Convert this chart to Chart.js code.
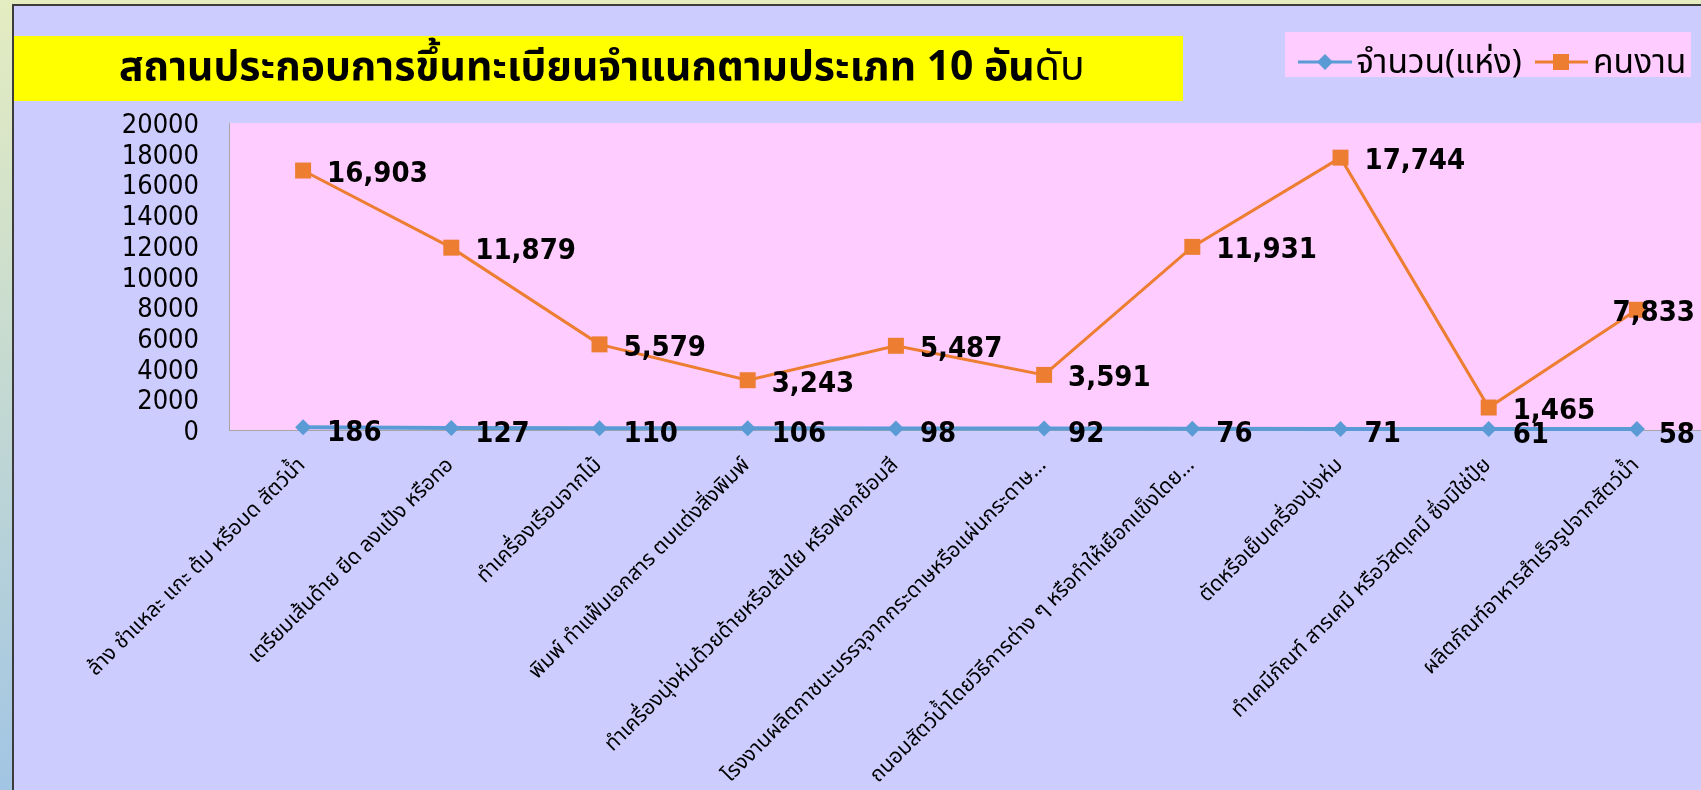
<!DOCTYPE html>
<html>
<head>
<meta charset="utf-8">
<script src="https://cdn.jsdelivr.net/npm/chart.js@4.4.1/dist/chart.umd.min.js"></script>
<style>
  html, body { margin: 0; padding: 0; width: 1701px; height: 790px; overflow: hidden;
    background: linear-gradient(#e4ecc0, #a2c5e4); }
  #frame { position: absolute; left: 12px; top: 4px; width: 1720px; height: 800px;
    border-left: 2px solid #3c3c3c; border-top: 2px solid #3c3c3c; background: #ccccff; }
  canvas { display: block; }
</style>
</head>
<body>
<div id="frame"><canvas id="chart" width="1718" height="784"></canvas></div>
<script>
const categories = [
  'ล้าง ชำแหละ แกะ ต้ม หรือบด สัตว์น้ำ',
  'เตรียมเส้นด้าย ยีด ลงแป้ง หรือทอ',
  'ทำเครื่องเรือนจากไม้',
  'พิมพ์ ทำแฟ้มเอกสาร ตบแต่งสิ่งพิมพ์',
  'ทำเครื่องนุ่งห่มด้วยด้ายหรือเส้นใย หรือฟอกย้อมสี',
  'โรงงานผลิตภาชนะบรรจุจากกระดาษหรือแผ่นกระดาษ…',
  'ถนอมสัตว์น้ำโดยวิธีการต่าง ๆ หรือทำให้เยือกแข็งโดย…',
  'ตัดหรือเย็บเครื่องนุ่งห่ม',
  'ทำเคมีภัณฑ์ สารเคมี หรือวัสดุเคมี ซึ่งมิใช่ปุ๋ย',
  'ผลิตภัณฑ์อาหารสำเร็จรูปจากสัตว์น้ำ'
];
const establishments = [186, 127, 110, 106, 98, 92, 76, 71, 61, 58];
const workers = [16903, 11879, 5579, 3243, 5487, 3591, 11931, 17744, 1465, 7833];
const seriesNames = ['จำนวน(แห่ง)', 'คนงาน'];
const yMin = 0, yMax = 20000, yStep = 2000;
const titleMain = 'สถานประกอบการขึ้นทะเบียนจำแนกตามประเภท 10 อัน';
const titleTail = 'ดับ';

const BLUE = '#5b9bd5';
const ORANGE = '#ed7d31';
const THAI = "Tahoma, 'Noto Sans Thai', Loma, Garuda, 'Noto Sans', sans-serif";
const NUM = "'DejaVu Sans Condensed', 'DejaVu Sans', sans-serif";

// pink plot area, yellow title box, legend box
const decor = {
  id: 'decor',
  beforeDraw(chart) {
    const { ctx, chartArea: a } = chart;
    ctx.save();
    ctx.fillStyle = '#ffccff';
    ctx.fillRect(a.left, a.top, a.right - a.left, a.bottom - a.top);

    // title, sized so it spans the same width as the original
    ctx.fillStyle = '#ffff00';
    ctx.fillRect(0, 30, 1169, 65);
    let size = 30;
    ctx.font = 'bold ' + size + 'px ' + THAI;
    let w1 = ctx.measureText(titleMain).width;
    ctx.font = size + 'px ' + THAI;
    let w2 = ctx.measureText(titleTail).width;
    size = Math.max(22, Math.min(42, size * 966 / (w1 + w2)));
    ctx.fillStyle = '#000';
    ctx.textBaseline = 'middle';
    ctx.textAlign = 'left';
    ctx.font = 'bold ' + size + 'px ' + THAI;
    w1 = ctx.measureText(titleMain).width;
    ctx.fillText(titleMain, 105, 66);
    ctx.font = size + 'px ' + THAI;
    ctx.fillText(titleTail, 105 + w1, 66);

    // legend
    ctx.fillStyle = '#ffccff';
    ctx.fillRect(1271, 26, 406, 45);
    const ly = 56;
    ctx.lineWidth = 3;
    ctx.strokeStyle = BLUE;
    ctx.beginPath(); ctx.moveTo(1284, ly); ctx.lineTo(1338, ly); ctx.stroke();
    ctx.fillStyle = BLUE;
    ctx.beginPath();
    ctx.moveTo(1311, ly - 8); ctx.lineTo(1319, ly); ctx.lineTo(1311, ly + 8); ctx.lineTo(1303, ly);
    ctx.closePath(); ctx.fill();
    ctx.strokeStyle = ORANGE;
    ctx.beginPath(); ctx.moveTo(1521, ly); ctx.lineTo(1574, ly); ctx.stroke();
    ctx.fillStyle = ORANGE;
    ctx.fillRect(1539, ly - 8, 16, 16);
    let ls = 25;
    ctx.font = ls + 'px ' + THAI;
    ls = Math.max(20, Math.min(34, ls * 166 / ctx.measureText(seriesNames[0]).width));
    ctx.fillStyle = '#000';
    ctx.font = ls + 'px ' + THAI;
    ctx.fillText(seriesNames[0], 1342, ly + 4);
    ctx.fillText(seriesNames[1], 1579, ly + 4);
    ctx.restore();
  }
};

// value labels to the right of every point
const valueLabels = {
  id: 'valueLabels',
  afterDatasetsDraw(chart) {
    const ctx = chart.ctx;
    const limit = 1681;
    ctx.save();
    ctx.font = 'bold 29px ' + NUM;
    ctx.fillStyle = '#000';
    ctx.textAlign = 'left';
    ctx.textBaseline = 'middle';
    chart.data.datasets.forEach((ds, i) => {
      const meta = chart.getDatasetMeta(i);
      const dy = i === 0 ? 6 : 4;
      meta.data.forEach((pt, j) => {
        const txt = ds.data[j].toLocaleString('en-US');
        const w = ctx.measureText(txt).width;
        let x = pt.x + 24;
        if (x + w > limit) x = limit - w;
        ctx.fillText(txt, x, pt.y + dy);
      });
    });
    ctx.restore();
  }
};

new Chart(document.getElementById('chart'), {
  type: 'line',
  data: {
    labels: categories,
    datasets: [
      {
        label: seriesNames[0],
        data: establishments,
        borderColor: BLUE,
        backgroundColor: BLUE,
        borderWidth: 4,
        pointStyle: 'rectRot',
        pointRadius: 8,
        pointBorderWidth: 0,
        tension: 0,
        clip: false
      },
      {
        label: seriesNames[1],
        data: workers,
        borderColor: ORANGE,
        backgroundColor: ORANGE,
        borderWidth: 3,
        pointStyle: 'rect',
        pointRadius: 11.3,
        pointBorderWidth: 0,
        tension: 0,
        clip: false
      }
    ]
  },
  options: {
    responsive: false,
    animation: false,
    layout: { padding: { left: 0, right: 21, top: 117, bottom: 0 } },
    plugins: {
      legend: { display: false },
      title: { display: false },
      tooltip: { enabled: false }
    },
    scales: {
      x: {
        offset: true,
        grid: { display: false, drawTicks: false },
        border: { display: true, color: '#a6a6a6', width: 1 },
        ticks: {
          autoSkip: false,
          maxRotation: 45,
          minRotation: 45,
          padding: 24,
          color: '#000',
          font: { family: THAI, size: 21 }
        },
        afterFit(scale) { scale.height = 360; }
      },
      y: {
        min: yMin,
        max: yMax,
        grid: { display: false, drawTicks: false },
        border: { display: true, color: '#a6a6a6', width: 1 },
        ticks: {
          autoSkip: false,
          stepSize: yStep,
          padding: 30,
          labelOffset: 3,
          color: '#000',
          font: { family: NUM, size: 27 },
          callback: v => String(v)
        },
        afterFit(scale) { scale.width = 215; }
      }
    }
  },
  plugins: [decor, valueLabels]
});
</script>
</body>
</html>
